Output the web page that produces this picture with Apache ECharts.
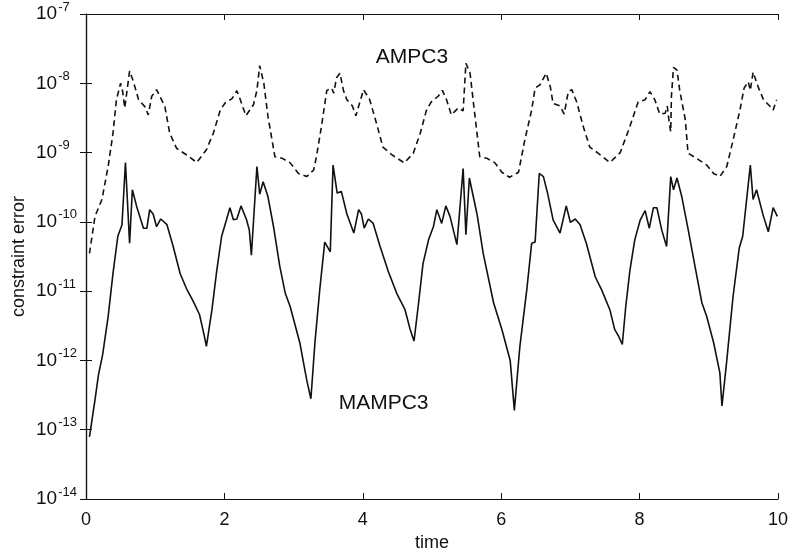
<!DOCTYPE html>
<html>
<head>
<meta charset="utf-8">
<script src="https://cdn.jsdelivr.net/npm/echarts@6/dist/echarts.min.js"></script>
<style>
  html, body { margin: 0; padding: 0; background: #fff; }
  #chart { width: 794px; height: 556px; }
</style>
</head>
<body>
<div id="chart"></div>
<script>
// ---- data ----
const xTicks = [0, 2, 4, 6, 8, 10];
const yTickExponents = [-14, -13, -12, -11, -10, -9, -8, -7];

const ampcT = [0.05,0.13,0.23,0.32,0.39,0.44,0.50,0.53,0.56,0.63,0.68,0.76,0.85,0.90,0.95,1.02,1.14,1.21,1.31,1.45,1.60,1.74,1.84,1.94,2.01,2.11,2.18,2.23,2.31,2.42,2.47,2.51,2.57,2.63,2.73,2.83,2.95,3.07,3.19,3.29,3.33,3.40,3.48,3.55,3.58,3.62,3.67,3.72,3.77,3.85,3.90,4.01,4.10,4.20,4.29,4.42,4.60,4.73,4.83,4.92,4.99,5.09,5.15,5.21,5.28,5.38,5.45,5.49,5.55,5.60,5.69,5.79,5.91,6.01,6.12,6.25,6.34,6.44,6.49,6.56,6.65,6.71,6.75,6.85,6.91,6.97,7.02,7.09,7.19,7.28,7.40,7.57,7.72,7.84,7.98,8.08,8.15,8.22,8.29,8.37,8.40,8.43,8.45,8.46,8.49,8.54,8.58,8.66,8.70,8.82,8.97,9.07,9.16,9.26,9.35,9.45,9.51,9.57,9.60,9.64,9.72,9.79,9.88,9.93,9.98];
const ampcErr = [3.5e-11,1.2e-10,2.1e-10,6.3e-10,1.9e-9,5.8e-9,1.0e-8,7.6e-9,4.4e-9,1.5e-8,1.1e-8,5.8e-9,4.6e-9,3.5e-9,6.5e-9,8.1e-9,4.6e-9,1.9e-9,1.15e-9,9.3e-10,7.2e-10,1.1e-9,1.9e-9,4.1e-9,5.2e-9,6.0e-9,7.8e-9,5.8e-9,3.4e-9,4.9e-9,7.9e-9,1.8e-8,1.0e-8,3.3e-9,8.7e-10,8.3e-10,7.1e-10,5.0e-10,4.5e-10,5.6e-10,8.7e-10,2.3e-9,7.9e-9,8.5e-9,7.2e-9,1.2e-8,1.4e-8,7.9e-9,5.8e-9,4.7e-9,3.4e-9,8.1e-9,5.8e-9,2.6e-9,1.2e-9,9.3e-10,7.1e-10,9.8e-10,1.9e-9,4.1e-9,5.4e-9,6.5e-9,7.9e-9,5.8e-9,3.5e-9,4.4e-9,4.0e-9,1.95e-8,1.4e-8,5.1e-9,8.7e-10,8.3e-10,7.1e-10,5.2e-10,4.4e-10,5.2e-10,1.5e-9,4.1e-9,8.5e-9,9.5e-9,1.4e-8,8.9e-9,5.1e-9,4.7e-9,3.6e-9,7.6e-9,8.1e-9,5.4e-9,2.3e-9,1.2e-9,9.8e-10,7.2e-10,1.0e-9,2.1e-9,5.4e-9,5.8e-9,7.6e-9,5.8e-9,3.6e-9,3.7e-9,4.7e-9,2.6e-9,2.0e-9,6.5e-9,1.7e-8,1.55e-8,7.9e-9,3.0e-9,9.8e-10,8.3e-10,6.6e-10,5.0e-10,4.5e-10,6.3e-10,1.5e-9,4.1e-9,8.5e-9,1.05e-8,7.9e-9,1.45e-8,8.5e-9,5.8e-9,4.7e-9,4.1e-9,5.8e-9];

const mampcT = [0.05,0.13,0.18,0.24,0.32,0.39,0.46,0.52,0.57,0.63,0.67,0.73,0.83,0.88,0.92,0.97,1.02,1.08,1.17,1.26,1.36,1.45,1.55,1.64,1.70,1.74,1.82,1.89,1.96,2.03,2.08,2.13,2.18,2.24,2.32,2.36,2.39,2.47,2.51,2.56,2.63,2.71,2.80,2.88,2.95,3.09,3.19,3.25,3.31,3.38,3.45,3.53,3.57,3.63,3.69,3.77,3.87,3.94,3.98,4.02,4.08,4.15,4.25,4.37,4.49,4.61,4.68,4.74,4.80,4.87,4.95,5.02,5.07,5.14,5.20,5.26,5.36,5.45,5.49,5.54,5.65,5.74,5.89,6.01,6.13,6.19,6.27,6.37,6.44,6.49,6.55,6.61,6.67,6.75,6.85,6.94,7.00,7.07,7.14,7.23,7.36,7.45,7.57,7.64,7.70,7.75,7.80,7.86,7.93,8.01,8.08,8.14,8.20,8.25,8.32,8.39,8.45,8.49,8.54,8.61,8.70,8.80,8.90,8.97,9.07,9.16,9.19,9.26,9.35,9.44,9.49,9.60,9.64,9.69,9.79,9.86,9.93,9.99];
const mampcErr = [7.9e-14,2.7e-13,6.2e-13,1.2e-12,4.3e-12,1.8e-11,6.2e-11,9.1e-11,7.2e-10,4.9e-11,2.9e-10,1.7e-10,8.1e-11,8.1e-11,1.5e-10,1.3e-10,8.5e-11,1.1e-10,9.1e-11,4.4e-11,1.8e-11,1.1e-11,7.1e-12,4.6e-12,2.5e-12,1.6e-12,5.4e-12,2.0e-11,6.2e-11,1.07e-10,1.6e-10,1.07e-10,1.1e-10,1.7e-10,1.07e-10,7.6e-11,3.3e-11,6.3e-10,2.5e-10,3.8e-10,2.3e-10,8.5e-11,2.3e-11,9.3e-12,6.0e-12,1.8e-12,5.2e-13,2.8e-13,1.9e-12,1.1e-11,5.1e-11,3.7e-11,6.6e-10,2.6e-10,2.75e-10,1.3e-10,6.9e-11,1.5e-10,1.3e-10,8.1e-11,1.1e-10,9.5e-11,4.4e-11,1.9e-11,9.3e-12,5.4e-12,2.9e-12,1.9e-12,6.0e-12,2.5e-11,5.5e-11,8.5e-11,1.5e-10,9.5e-11,1.7e-10,1.2e-10,4.7e-11,5.9e-10,6.5e-11,4.3e-10,1.3e-10,3.5e-11,6.8e-12,2.8e-12,1.0e-12,1.9e-13,1.6e-12,1.05e-11,4.9e-11,5.1e-11,5.0e-10,4.5e-10,2.6e-10,1.07e-10,6.9e-11,1.7e-10,9.8e-11,1.1e-10,9.1e-11,4.9e-11,1.6e-11,1.05e-11,5.4e-12,2.8e-12,2.2e-12,1.7e-12,6.0e-12,2.0e-11,5.5e-11,1.07e-10,1.45e-10,8.1e-11,1.6e-10,1.6e-10,7.6e-11,4.4e-11,4.5e-10,2.9e-10,4.3e-10,2.3e-10,7.9e-11,2.3e-11,6.8e-12,4.3e-12,1.8e-12,6.6e-13,2.2e-13,1.0e-12,8.3e-12,4.2e-11,6.2e-11,6.6e-10,2.1e-10,2.9e-10,1.2e-10,7.2e-11,1.6e-10,1.2e-10];

const labelAmpc = { name: 'AMPC3', t: 4.71, err: 2.4e-8 };
const labelMampc = { name: 'MAMPC3', t: 4.30, err: 2.4e-13 };

// ---- chart ----
const FONT = '"Liberation Sans", Arial, Helvetica, sans-serif';
const ink = '#111';
const chart = echarts.init(document.getElementById('chart'), null, { renderer: 'canvas' });

function pairs(xs, ys) { return xs.map((x, i) => [x, ys[i]]); }

const yMin = Math.pow(10, yTickExponents[0]);
const yMax = Math.pow(10, yTickExponents[yTickExponents.length - 1]);

const commonTick = { show: true, inside: true, length: 6, lineStyle: { color: ink, width: 1 } };
const commonLine = { show: true, lineStyle: { color: ink, width: 1.2 } };

chart.setOption({
  animation: false,
  backgroundColor: '#fff',
  grid: { left: 86, right: 16, top: 14, bottom: 57, containLabel: false, outerBoundsMode: 'none' },
  xAxis: [
    {
      type: 'value', min: xTicks[0], max: xTicks[xTicks.length - 1], interval: 2,
      position: 'bottom',
      name: 'time', nameLocation: 'middle', nameGap: 35, nameMoveOverlap: false,
      nameTextStyle: { fontFamily: FONT, fontSize: 18, color: ink },
      axisLine: commonLine, axisTick: commonTick, splitLine: { show: false },
      axisLabel: { fontFamily: FONT, fontSize: 18, color: ink, margin: 12 }
    },
    {
      type: 'value', min: xTicks[0], max: xTicks[xTicks.length - 1], interval: 2,
      position: 'top',
      axisLine: commonLine, axisTick: commonTick, splitLine: { show: false },
      axisLabel: { show: false }
    }
  ],
  yAxis: [
    {
      type: 'log', logBase: 10, min: yMin, max: yMax, interval: 1,
      position: 'left',
      name: 'constraint error', nameLocation: 'middle', nameGap: 58, nameRotate: 90,
      nameMoveOverlap: false,
      nameTextStyle: { fontFamily: FONT, fontSize: 18, color: ink },
      axisLine: commonLine, axisTick: commonTick, splitLine: { show: false },
      axisLabel: {
        margin: 50, align: 'left',
        formatter: function (v) {
          const e = Math.round(Math.log10(v));
          return '{b|10}{s|' + e + '}';
        },
        rich: {
          b: { fontFamily: FONT, fontSize: 19, color: ink },
          s: { fontFamily: FONT, fontSize: 13, color: ink, padding: [0, 0, 14, 1] }
        }
      }
    },
    {
      type: 'log', logBase: 10, min: yMin, max: yMax, interval: 1,
      position: 'right',
      axisLine: commonLine, axisTick: commonTick, splitLine: { show: false },
      axisLabel: { show: false }
    }
  ],
  series: [
    {
      name: 'AMPC3', type: 'line', xAxisIndex: 0, yAxisIndex: 0,
      data: pairs(ampcT, ampcErr), showSymbol: false, symbol: 'none',
      lineStyle: { color: ink, width: 1.6, type: [6, 4] },
      markPoint: {
        symbol: 'circle', symbolSize: 0,
        label: { show: true, position: 'inside', formatter: '{b}', fontFamily: FONT, fontSize: 21, color: ink },
        data: [{ name: labelAmpc.name, coord: [labelAmpc.t, labelAmpc.err] }]
      }
    },
    {
      name: 'MAMPC3', type: 'line', xAxisIndex: 0, yAxisIndex: 0,
      data: pairs(mampcT, mampcErr), showSymbol: false, symbol: 'none',
      lineStyle: { color: ink, width: 1.6 },
      markPoint: {
        symbol: 'circle', symbolSize: 0,
        label: { show: true, position: 'inside', formatter: '{b}', fontFamily: FONT, fontSize: 21, color: ink },
        data: [{ name: labelMampc.name, coord: [labelMampc.t, labelMampc.err] }]
      }
    }
  ]
});
</script>
</body>
</html>
